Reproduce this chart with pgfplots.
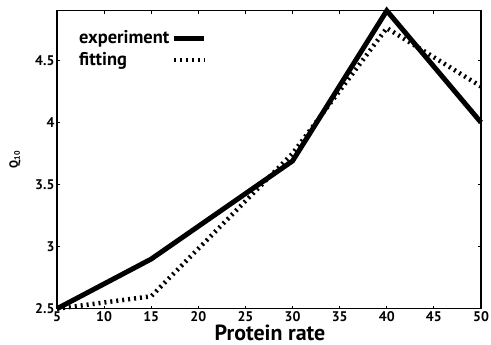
\documentclass[border=0pt]{standalone}
\usepackage{pgfplots}
\pgfplotsset{compat=1.18}
\usepackage{fontspec}
\setmainfont{PT Sans}
\begin{document}
\begin{tikzpicture}
\useasboundingbox (-57bp,-36bp) rectangle (434bp,308.7bp);
\begin{axis}[
  at={(0,0)}, anchor=south west,
  scale only axis,
  width=424bp, height=298bp,
  xmin=5, xmax=50, ymin=2.5, ymax=4.9,
  xtick={5,10,...,50},
  ytick={2.5,3,3.5,4,4.5},
  tick align=inside,
  major tick length=3bp,
  axis line style={line width=1.2pt},
  tick style={line width=0.8pt,black},
  /pgf/number format/assume math mode=true,
  tick label style={font=\fontsize{14}{15}\selectfont\bfseries},
  xticklabel style={inner sep=0.5bp, yshift=-2bp},
  yticklabel style={xshift=1bp},
  xlabel={\fontsize{22}{24}\selectfont\bfseries Protein rate},
  every axis x label/.style={at={(rel axis cs:0.5,0)}, anchor=base, inner sep=0pt, yshift=-32bp, xshift=1bp},
  ylabel={\fontsize{12}{13}\selectfont\bfseries Q$_{\mathbf{10}}$},
  every axis y label/.style={at={(rel axis cs:0,0.5)}, xshift=-42bp, rotate=90, anchor=center},
  clip=false,
  legend style={at={(rel axis cs:0,1)}, anchor=north west, xshift=17bp, yshift=-16bp, draw=none, fill=none,
    font=\fontsize{18.5}{20}\selectfont\bfseries, row sep=3bp},
  legend cell align=left,
  legend plot pos=right,
  every axis legend/.append style={legend image code/.code={\draw[#1] (0cm,0cm) -- (30bp,0cm);}},
]
\addplot[black, line width=5pt, line join=miter] coordinates {
  (5,2.5) (15,2.9) (30,3.69) (40,4.9) (50,4.0)
};
\addlegendentry{experiment}
\addplot[black, line width=4.5pt, dash pattern=on 2pt off 4pt] coordinates {
  (5,2.5) (10,2.55) (15,2.6) (30,3.75) (40,4.76) (50,4.29)
};
\addlegendentry{fitting}
\end{axis}
\end{tikzpicture}
\end{document}
